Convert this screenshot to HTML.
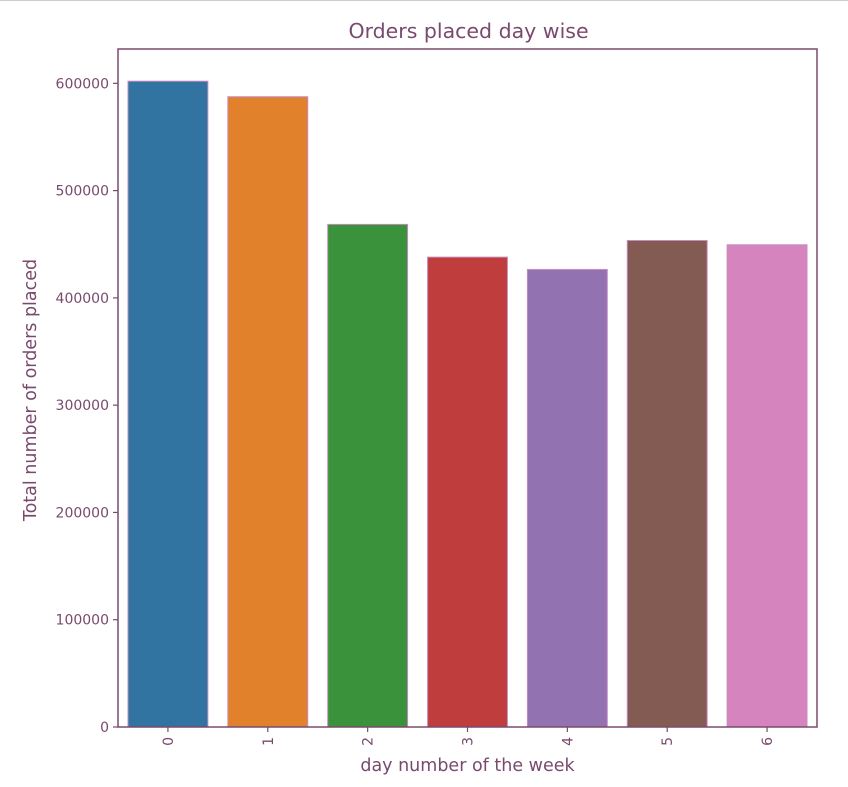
<!DOCTYPE html>
<html><head><meta charset="utf-8"><style>
body{margin:0;background:#fff;width:848px;height:787px;overflow:hidden;font-family:"DejaVu Sans","Liberation Sans",sans-serif}
</style></head><body>
<div style="position:absolute;left:0;top:0;width:848px;height:1px;background:#ccc"></div>
<svg id="chart" width="848" height="787" style="position:absolute;left:0;top:0;font-family:'DejaVu Sans','Liberation Sans',sans-serif"></svg>
<script>
const categories=["0","1","2","3","4","5","6"];
const orders=[602000,587500,468500,438000,426500,453500,449500];
const yTicks=[0,100000,200000,300000,400000,500000,600000];
const colors=["#3274a1","#e1812c","#3a923a","#c03d3e","#9372b2","#845b53","#d684bd"];
const svg=document.getElementById('chart');
const NS='http://www.w3.org/2000/svg';
const L=118,R=817,T=49,B=727,yMax=632000;
const txt='#7a4a6e';
function x(i){return L+(i+0.5)*(R-L)/categories.length;}
function y(v){return B-v/yMax*(B-T);}
function mk(t,a,name,s){const e=document.createElementNS(NS,t);for(const k in a)e.setAttribute(k,a[k]);


if(s!==undefined)e.textContent=s;svg.appendChild(e);return e;}
const bw=(R-L)/categories.length*0.8;
orders.forEach((v,i)=>{
mk('rect',{x:x(i)-bw/2,y:y(v),width:bw,height:B-y(v),fill:colors[i],stroke:'#c98bc0','stroke-width':1},'bar-day-'+categories[i]);
});
mk('rect',{x:L,y:T,width:R-L,height:B-T,fill:'none',stroke:'#7a4a6e','stroke-width':1.5},'plot-frame');
yTicks.forEach(v=>{
mk('line',{x1:L-5,x2:L,y1:y(v),y2:y(v),stroke:txt,'stroke-width':1.2},'y-tick');
mk('text',{x:L-9,y:y(v)+5,'text-anchor':'end','font-size':14,fill:txt},'y-tick-label',String(v));
});
categories.forEach((c,i)=>{
mk('line',{x1:x(i),x2:x(i),y1:B,y2:B+5,stroke:txt,'stroke-width':1.2},'x-tick');
mk('text',{x:x(i)+5,y:B+10,'text-anchor':'end','font-size':14,fill:txt,transform:`rotate(-90 ${x(i)+5} ${B+10})`},'x-tick-label',c);
});
mk('text',{x:(L+R)/2+1,y:38,'text-anchor':'middle','font-size':20.5,fill:txt},'chart-title','Orders placed day wise');
mk('text',{x:(L+R)/2,y:771,'text-anchor':'middle','font-size':17.5,fill:txt},'x-axis-title','day number of the week');
mk('text',{x:36,y:(T+B)/2+2,'text-anchor':'middle','font-size':17.5,fill:txt,transform:`rotate(-90 36 ${(T+B)/2+2})`},'y-axis-title','Total number of orders placed');
</script>
</body></html>
